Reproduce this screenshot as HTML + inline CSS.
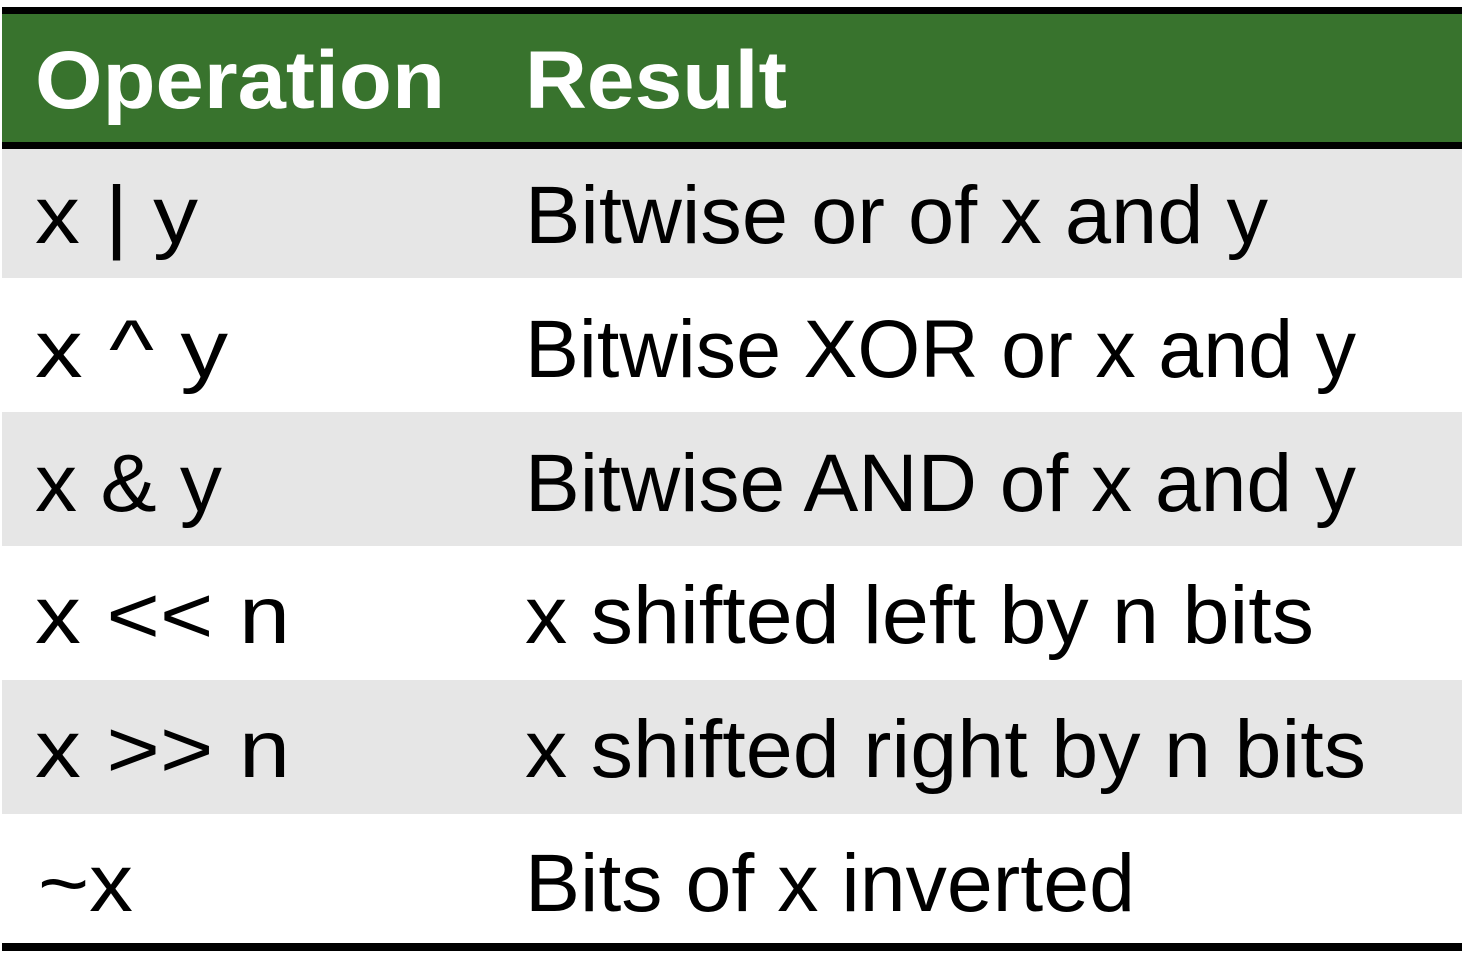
<!DOCTYPE html>
<html><head><meta charset="utf-8"><style>
html,body{margin:0;padding:0;background:#fff;width:1466px;height:979px;overflow:hidden}
text{font-family:"Liberation Sans",sans-serif;font-size:82px;fill:#000}
.h{font-weight:bold;fill:#fff}
</style></head><body>
<svg width="1466" height="979" viewBox="0 0 1466 979">
<rect x="2" y="7" width="1460" height="7" fill="#000"/>
<rect x="2" y="14" width="1460" height="128" fill="#38732d"/>
<rect x="2" y="142" width="1460" height="7" fill="#000"/>
<rect x="2" y="149" width="1460" height="129" fill="#e6e6e6"/>
<rect x="2" y="412" width="1460" height="134" fill="#e6e6e6"/>
<rect x="2" y="680" width="1460" height="134" fill="#e6e6e6"/>
<rect x="2" y="943" width="1460" height="8" fill="#000"/>

<text class="h" x="35" y="108" textLength="410" lengthAdjust="spacingAndGlyphs">Operation</text>
<text class="h" x="525" y="108" textLength="262" lengthAdjust="spacingAndGlyphs">Result</text>

<text x="35" y="243" textLength="163" lengthAdjust="spacingAndGlyphs">x | y</text>
<text x="525" y="243" textLength="743" lengthAdjust="spacingAndGlyphs">Bitwise or of x and y</text>

<text x="35" y="377" textLength="193" lengthAdjust="spacingAndGlyphs">x ^ y</text>
<text x="525" y="377" textLength="831" lengthAdjust="spacingAndGlyphs">Bitwise XOR or x and y</text>

<text x="35" y="511" textLength="187" lengthAdjust="spacingAndGlyphs">x &amp; y</text>
<text x="525" y="511" textLength="831" lengthAdjust="spacingAndGlyphs">Bitwise AND of x and y</text>

<text x="35" y="643" textLength="255" lengthAdjust="spacingAndGlyphs">x &lt;&lt; n</text>
<text x="525" y="643" textLength="789" lengthAdjust="spacingAndGlyphs">x shifted left by n bits</text>

<text x="35" y="777" textLength="255" lengthAdjust="spacingAndGlyphs">x &gt;&gt; n</text>
<text x="525" y="777" textLength="841" lengthAdjust="spacingAndGlyphs">x shifted right by n bits</text>

<text x="38" y="911" textLength="95" lengthAdjust="spacingAndGlyphs">~x</text>
<text x="525" y="911" textLength="610" lengthAdjust="spacingAndGlyphs">Bits of x inverted</text>
</svg>
</body></html>
